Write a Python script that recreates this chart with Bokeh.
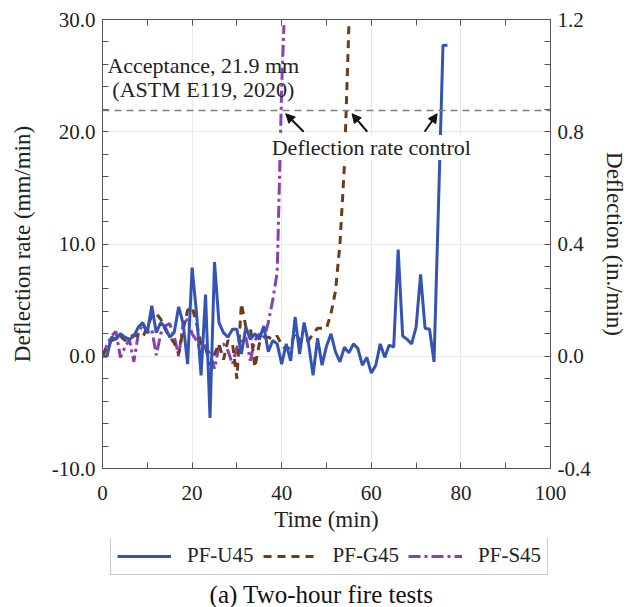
from bokeh.plotting import figure
from bokeh.layouts import column
from bokeh.models import (Range1d, LinearAxis, FixedTicker, NumeralTickFormatter, Span, Label,
                          Arrow, NormalHead, Legend, LegendItem, CustomJSTickFormatter)
from bokeh.embed import file_html
from bokeh.resources import INLINE

# ---- data ----
u45_t = list(range(0, 78))
u45_v = [0, 0, 1.7, 1.5, 2.0, 1.7, 1.5, 1.8, 2.6, 3.0,
         2.1, 4.5, 2.1, 3.0, 2.6, 1.7, 2.1, 4.4, 2.9, -0.7,
         7.9, 3.8, -1.7, 5.5, -5.5, 8.4, 3.0, 2.1, 1.7, 2.4,
         2.4, 0.2, 2.6, 1.5, 2.0, 1.5, 2.7, 0.4, 1.4, 1.1,
         -0.7, 1.1, -0.4, 3.5, 0.2, 3.0, 1.1, -1.7, 1.6, -0.8,
         0.9, 2.0, 0.4, -0.5, 0.8, 0.3, 1.1, 0.7, -0.8, -0.1,
         -1.5, -0.8, 1.1, -0.1, 1.0, 0.8, 9.5, 1.8, 1.5, 1.1,
         2.6, 7.3, 2.5, 2.4, -0.5, 13.5, 27.7, 27.7]

g45_t = list(range(0, 56))
g45_v = [0, 0.8, 1.4, 1.6, 1.8, 1.4, 1.7, 1.9, 1.8, 1.7,
         2.6, 3.6, 3.8, 3.3, 2.4, 1.7, 1.2, 0.2, 2.4, 4.1,
         4.4, 2.9, 1.1, 0.8, -0.8, 0.2, 1.1, -0.3, 1.4, 1.2,
         -2.0, 4.7, 2.6, 2.6, -1.0, 1.1, 1.7, 1.7, 1.5, 1.8,
         1.0, 0.6, 0.8, 2.2, 1.4, 1.4, 1.4, 2.0, 2.5, 2.5,
         2.5, 3.8, 5.8, 10.0, 17.0, 29.5]

s45_t = list(range(0, 41)) + [40.5]
s45_v = [0, 1.0, 1.8, 2.2, -0.1, 0.8, 1.5, -0.5, 2.0, 2.9,
         2.1, 2.4, 0.1, 2.0, 2.7, 2.9, 1.8, 0.0, 2.9, 3.3,
         2.0, 1.4, 0.4, 1.0, 0.2, -1.1, 0.9, 1.1, 0.5, -0.7,
         0.8, 1.4, 1.7, -0.4, 1.4, 2.0, 1.5, 3.0, 5.0, 7.5,
         24.0, 29.5]

series_names = ["PF-U45", "PF-G45", "PF-S45"]
x_ticks = [0, 20, 40, 60, 80, 100]
y_ticks = [-10, 0, 10, 20, 30]
y2_ticks = [-0.4, 0.0, 0.4, 0.8, 1.2]
acceptance = 21.9
# arrow annotations: (x_start, y_start, x_end, y_end)
arrows = [(44.9, 20.0, 40.9, 21.6), (59.1, 20.0, 55.7, 21.6), (71.9, 20.0, 74.7, 21.6)]

FONT = "Liberation Serif"
BLUE, BROWN, PURPLE = "#3354b4", "#6e3c16", "#8a3fb3"
STYLES = [dict(line_color=BLUE, line_width=3),
          dict(line_color=BROWN, line_width=3, line_dash="8 6"),
          dict(line_color=PURPLE, line_width=3, line_dash="12 4 3 4")]
SERIES = [(u45_t, u45_v), (g45_t, g45_v), (s45_t, s45_v)]

p = figure(width=630, height=538, output_backend="svg", toolbar_location=None,
           x_range=Range1d(0, 100), y_range=Range1d(-10, 30),
           min_border_left=102, min_border_right=80, min_border_top=19, min_border_bottom=70)
p.background_fill_color = "white"
p.border_fill_color = "white"
p.outline_line_color = "#555555"
p.outline_line_width = 1

p.extra_y_ranges = {"right": Range1d(-0.4, 1.2)}

def style_axis(ax):
    ax.axis_line_color = "#555555"
    ax.major_tick_line_color = "#555555"
    ax.minor_tick_line_color = "#555555"
    ax.major_tick_in = 6
    ax.major_tick_out = 0
    ax.minor_tick_in = 6
    ax.minor_tick_out = 0
    ax.major_label_text_font = FONT
    ax.major_label_text_font_size = "21px"
    ax.major_label_text_color = "#222222"
    ax.axis_label_text_font = FONT
    ax.axis_label_text_font_size = "23px"
    ax.axis_label_text_font_style = "normal"
    ax.axis_label_text_color = "#222222"

xt = FixedTicker(ticks=x_ticks, minor_ticks=[10, 30, 50, 70, 90])
yt = FixedTicker(ticks=y_ticks, minor_ticks=[v for v in range(-10, 31, 2) if v % 10])
y2t = FixedTicker(ticks=y2_ticks, minor_ticks=[round(-0.4 + 0.08 * i, 2) for i in range(21) if i % 5])

xa = p.xaxis[0]
xa.ticker = xt
xa.axis_label = "Time (min)"
style_axis(xa)
xa.major_label_standoff = 17
xa.axis_label_standoff = 4

ya = p.yaxis[0]
ya.ticker = yt
ya.formatter = NumeralTickFormatter(format="0.0")
ya.axis_label = "Deflection rate (mm/min)"
style_axis(ya)
ya.major_label_standoff = 7
ya.axis_label_standoff = 14

ra = LinearAxis(y_range_name="right", ticker=y2t, formatter=NumeralTickFormatter(format="0.0"),
                axis_label="Deflection (in./min)")
style_axis(ra)
ra.major_label_standoff = 7
ra.axis_label_standoff = 8
p.add_layout(ra, "right")

ta = LinearAxis(ticker=xt, formatter=CustomJSTickFormatter(code="return ''"))
style_axis(ta)
ta.major_label_standoff = 0
ta.major_label_text_font_size = "1px"
p.add_layout(ta, "above")

p.xgrid.grid_line_color = "#e8e8e8"
p.ygrid.grid_line_color = "#e8e8e8"
p.xgrid.ticker = FixedTicker(ticks=[20, 40, 60, 80])
p.ygrid.ticker = FixedTicker(ticks=[-10, 0, 10, 20])

for (t, v), st in reversed(list(zip(SERIES, STYLES))):
    p.line(t, v, **st)

p.add_layout(Span(location=acceptance, dimension="width", line_color="#808080",
                  line_width=1.5, line_dash="7 5"))

for (xs, ys, xe, ye) in arrows:
    p.add_layout(Arrow(end=NormalHead(size=9, fill_color="#111111", line_color="#111111"),
                       x_start=xs, y_start=ys, x_end=xe, y_end=ye,
                       line_color="#111111", line_width=2))

p.add_layout(Label(x=22.5, y=25.9, text="Acceptance, 21.9 mm", text_align="center",
                   text_baseline="middle", text_font=FONT, text_font_size="22px",
                   text_color="#222222"))
p.add_layout(Label(x=22.5, y=23.8, text="(ASTM E119, 2020)", text_align="center",
                   text_baseline="middle", text_font=FONT, text_font_size="22px",
                   text_color="#222222"))
p.add_layout(Label(x=60.0, y=18.6, text="Deflection rate control", text_align="center",
                   text_baseline="middle", text_font=FONT, text_font_size="22px",
                   text_color="#222222", background_fill_color="white",
                   background_fill_alpha=1.0))

# ---- lower strip: legend and caption (series lie outside this strip's y range) ----
q = figure(width=630, height=69, output_backend="svg", toolbar_location=None,
           x_range=Range1d(0, 100), y_range=Range1d(1000, 1001),
           x_axis_location=None, y_axis_location=None,
           min_border_left=0, min_border_right=0, min_border_top=0, min_border_bottom=0)
q.grid.visible = False
q.outline_line_color = None
q.background_fill_color = "white"
q.border_fill_color = "white"
items = []
for name, (t, v), st in zip(series_names, SERIES, STYLES):
    r = q.line(t, v, **st)
    items.append(LegendItem(label=name, renderers=[r]))

legend = Legend(items=items, orientation="horizontal", location=(8, 32), margin=0,
                glyph_width=54, glyph_height=20, label_standoff=16, spacing=9, padding=6,
                label_text_font=FONT, label_text_font_size="21px", label_text_color="#222222",
                border_line_color="#999999", border_line_width=1.5)
q.add_layout(legend)

q.add_layout(Label(x=219, y=13, x_units="screen", y_units="screen",
                   text="(a) Two-hour fire tests", text_align="center", text_baseline="middle",
                   text_font=FONT, text_font_size="25px", text_color="#111111"))

layout = column(p, q, spacing=0)
open("out.html", "w").write(file_html(layout, INLINE))
